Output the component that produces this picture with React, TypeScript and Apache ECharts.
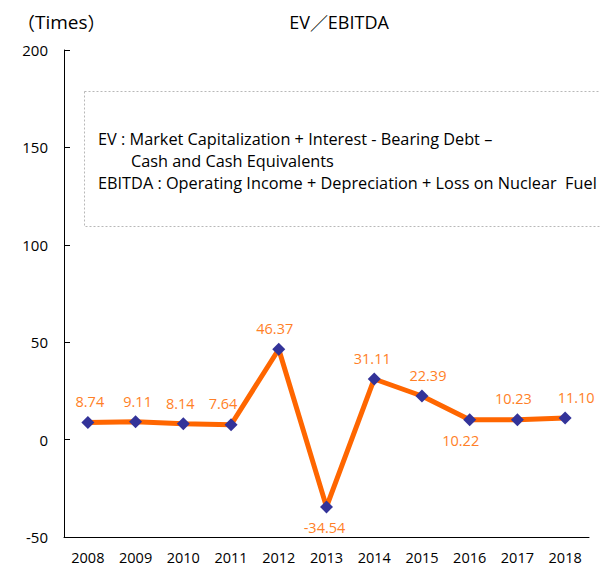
import React, { useEffect, useRef } from "react";
import * as echarts from "echarts";

const years = ["2008", "2009", "2010", "2011", "2012", "2013", "2014", "2015", "2016", "2017", "2018"];
const evEbitda = [8.74, 9.11, 8.14, 7.64, 46.37, -34.54, 31.11, 22.39, 10.22, 10.23, 11.1];
const labelBelow = [false, false, false, false, false, true, false, false, true, false, false];
const labelShiftX = [2, 2, -3, -8, -4, -2, -2, 6, -9, -4, 11];
const yTicks = { min: -50, max: 200, interval: 50 };
const titleText = "EV／EBITDA";
const unitText = "（Times）";
const noteLines = [
  "EV : Market Capitalization + Interest - Bearing Debt –",
  "Cash and Cash Equivalents",
  "EBITDA : Operating Income + Depreciation + Loss on Nuclear  Fuel",
];

const FONT = "'Open Sans', 'Noto Sans', 'Noto Sans CJK JP', sans-serif";
const CJK = "'Noto Sans CJK JP', 'Noto Sans CJK SC', sans-serif";

export default function App() {
  const ref = useRef<HTMLDivElement>(null);
  useEffect(() => {
    if (!ref.current) return;
    const chart = echarts.init(ref.current, null, { renderer: "svg" });
    const unitRich = unitText.replace(/^（/, "{p|（}{t|").replace(/）$/, "}{p|）}");
    const titleRich = titleText.replace(/^([^／]*)／(.*)$/, "{t|$1}{p|／}{t|$2}");
    chart.setOption({
      animation: false,
      backgroundColor: "#ffffff",
      textStyle: { fontFamily: FONT },
      grid: { left: 64, right: 19, top: 50, bottom: 38 },
      xAxis: {
        type: "category",
        data: years,
        boundaryGap: true,
        axisLine: { onZero: false, lineStyle: { color: "#000", width: 1 } },
        axisTick: { inside: true, length: 5, lineStyle: { color: "#000" } },
        axisLabel: { color: "#000", fontSize: 14.5, margin: 13, fontFamily: FONT },
        splitLine: { show: false },
      },
      yAxis: {
        type: "value",
        min: yTicks.min,
        max: yTicks.max,
        interval: yTicks.interval,
        axisLine: { show: true, lineStyle: { color: "#000", width: 1 } },
        axisTick: { show: true, inside: true, length: 6, lineStyle: { color: "#000" } },
        axisLabel: { color: "#000", fontSize: 15, margin: 16, fontFamily: FONT },
        splitLine: { show: false },
      },
      graphic: [
        {
          type: "text",
          x: 17,
          y: 22,
          style: {
            text: unitRich,
            fill: "#000",
            verticalAlign: "middle",
            rich: {
              p: { fontFamily: CJK, fontSize: 18, fill: "#000" },
              t: { fontFamily: FONT, fontSize: 19, fill: "#000" },
            },
          },
        },
        {
          type: "text",
          x: 339,
          y: 22,
          style: {
            text: titleRich,
            fill: "#000",
            align: "center",
            verticalAlign: "middle",
            rich: {
              p: { fontFamily: CJK, fontSize: 18, fill: "#000" },
              t: { fontFamily: FONT, fontSize: 18, fill: "#000" },
            },
          },
        },
        {
          type: "rect",
          shape: { x: 84.5, y: 91.5, width: 520, height: 135 },
          style: { fill: "#fff", stroke: "#b8b8b8", lineWidth: 1, lineDash: [2, 2] },
          z: 10,
        },
        {
          type: "text",
          x: 98,
          y: 139,
          z: 11,
          style: { text: noteLines[0], fontSize: 16.3, fill: "#000", fontFamily: FONT, verticalAlign: "middle" },
        },
        {
          type: "text",
          x: 131,
          y: 161,
          z: 11,
          style: { text: noteLines[1], fontSize: 16.3, fill: "#000", fontFamily: FONT, verticalAlign: "middle" },
        },
        {
          type: "text",
          x: 98,
          y: 183,
          z: 11,
          style: { text: noteLines[2], fontSize: 16.3, fill: "#000", fontFamily: FONT, verticalAlign: "middle" },
        },
      ],
      series: [
        {
          type: "line",
          data: evEbitda.map((v, i) => ({
            value: v,
            label: {
              position: labelBelow[i] ? "bottom" : "top",
              distance: 7,
              offset: [labelShiftX[i], 0],
            },
          })),
          lineStyle: { color: "#FF6600", width: 5 },
          itemStyle: { color: "#333399" },
          symbol: "diamond",
          symbolSize: 13,
          showAllSymbol: true,
          label: {
            show: true,
            color: "#FF7F27",
            fontSize: 14.5,
            fontFamily: FONT,
            formatter: (p: any) => Number(p.value).toFixed(2),
          },
        },
      ],
    });
    return () => chart.dispose();
  }, []);
  return <div ref={ref} style={{ width: 608, height: 575, margin: -8 }} />;
}
